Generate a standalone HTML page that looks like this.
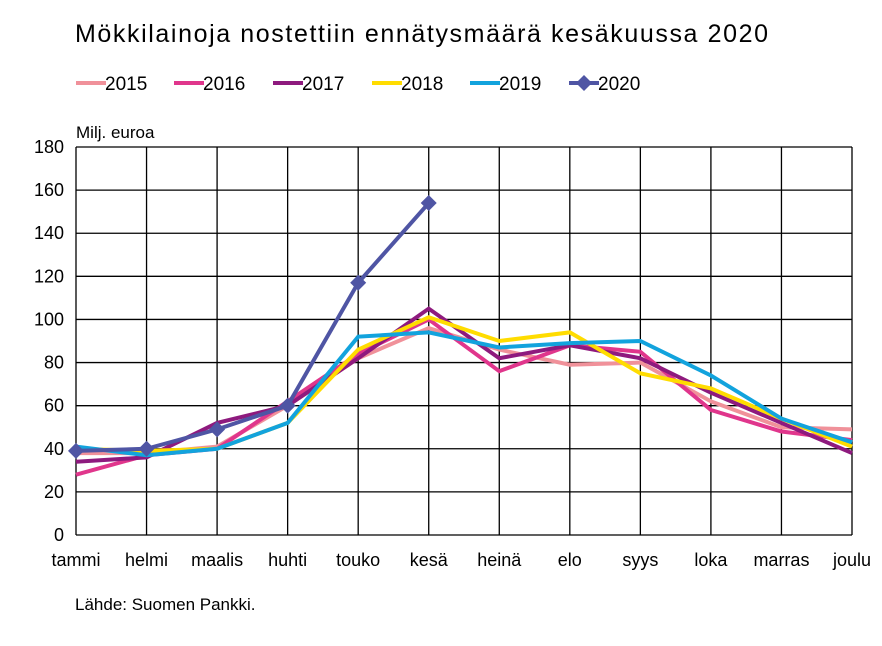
<!DOCTYPE html>
<html><head><meta charset="utf-8"><style>
body{margin:0;background:#fff;font-family:"Liberation Sans",sans-serif;}
svg text{font-family:"Liberation Sans",sans-serif;fill:#000;}
</style></head><body>
<svg width="882" height="641" viewBox="0 0 882 641">
<rect width="882" height="641" fill="#fff"/>
<text x="75" y="42" font-size="25" textLength="693" lengthAdjust="spacing">Mökkilainoja nostettiin ennätysmäärä kesäkuussa 2020</text>
<g id="legend"></g>
<text x="76" y="138" font-size="17">Milj. euroa</text>
<g id="grid"></g>
<g id="series"></g>
<text x="75" y="610" font-size="17">Lähde: Suomen Pankki.</text>
</svg>
<script>
const months=["tammi","helmi","maalis","huhti","touko","kesä","heinä","elo","syys","loka","marras","joulu"];
const yTicks=[0,20,40,60,80,100,120,140,160,180];
const years=["2015","2016","2017","2018","2019","2020"];
const colors=["#f0919a","#e0368c","#8e1a7e","#ffdc00","#12a3dd","#4f55a4"];
const s2015=[38,38,41,60,82,96,86,79,80,62,50,49];
const s2016=[28,37,40,62,84,100,76,88,85,58,48,44];
const s2017=[34,36,52,60,82,105,82,88,82,66,52,38];
const s2018=[40,39,40,52,86,101,90,94,75,68,54,41];
const s2019=[41,37,40,52,92,94,87,89,90,74,54,43];
const s2020=[39,40,49,60,117,154];
const NS="http://www.w3.org/2000/svg";
const X0=76,X1=852,Y0=535,Y1=147;
const x=i=>X0+i*(X1-X0)/(months.length-1);
const y=v=>Y0-v*(Y0-Y1)/180;
function mk(t,a,p){const e=document.createElementNS(NS,t);for(const k in a)e.setAttribute(k,a[k]);p.appendChild(e);return e;}
const grid=document.getElementById('grid');
yTicks.forEach(v=>{
 const l=mk('line',{x1:X0,x2:X1,y1:y(v),y2:y(v),stroke:'#000','stroke-width':1.3},grid);
 
 
 const t=mk('text',{x:X0-12,y:y(v)+6,'text-anchor':'end','font-size':18},grid);t.textContent=v;
 
 
});
months.forEach((m,i)=>{
 const l=mk('line',{x1:x(i),x2:x(i),y1:Y1,y2:Y0,stroke:'#000','stroke-width':1.3},grid);
 
 
 const t=mk('text',{x:x(i),y:566,'text-anchor':'middle','font-size':18},grid);t.textContent=m;
 
 
});
const data=[s2015,s2016,s2017,s2018,s2019,s2020];
const sg=document.getElementById('series');
data.forEach((d,k)=>{
 const p=mk('polyline',{points:d.map((v,i)=>x(i)+','+y(v)).join(' '),fill:'none',stroke:colors[k],'stroke-width':4,'stroke-linejoin':'miter'},sg);
 
 
 if(k===5)d.forEach((v,i)=>{
  const r=mk('polygon',{points:`${x(i)},${y(v)-8} ${x(i)+8},${y(v)} ${x(i)},${y(v)+8} ${x(i)-8},${y(v)}`,fill:colors[k]},sg);
  
  
 });
});
const lg=document.getElementById('legend');
const lx=[76,174,273,372,470,569];
years.forEach((yr,k)=>{
 const l=mk('line',{x1:lx[k],x2:lx[k]+30,y1:83,y2:83,stroke:colors[k],'stroke-width':4},lg);
 
 
 if(k===5){const r=mk('polygon',{points:`${lx[k]+15},75 ${lx[k]+23},83 ${lx[k]+15},91 ${lx[k]+7},83`,fill:colors[k]},lg);
  
  }
 const t=mk('text',{x:lx[k]+29,y:90,'font-size':19},lg);t.textContent=yr;
 
 
});
</script>
</body></html>
